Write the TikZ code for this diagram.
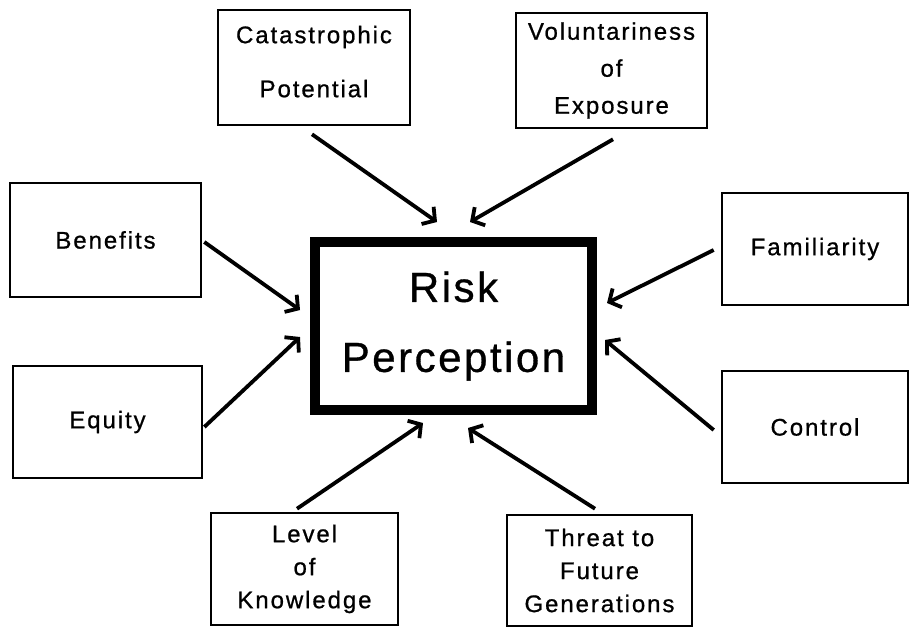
\documentclass[tikz,border=0pt]{standalone}
\usepackage{fontspec}
\setmainfont{Liberation Sans}
\newfontfamily\labfont{Liberation Sans}[LetterSpace=8,FakeBold=0.8]
\newfontfamily\bigfont{Liberation Sans}[LetterSpace=6,FakeBold=0.8]
\usetikzlibrary{arrows.meta,calc}
\tikzset{
  factor/.style={draw, line width=2.6pt, rectangle, align=center, inner sep=0pt,
    font=\labfont\fontsize{24}{34}\selectfont},
  central/.style={draw, line width=10pt, rectangle, align=center, inner sep=0pt,
    font=\bigfont\fontsize{42}{70}\selectfont},
  arr/.style={line width=3.8pt, -{Straight Barb[length=9pt,width=21pt]}}
}
\begin{document}
\begin{tikzpicture}[x=1pt,y=-1pt]
\useasboundingbox (0,0) rectangle (910,627);
\node[central, minimum width=277pt, minimum height=168pt] (risk) at (453.5,326) {Risk\\Perception};
\node[factor, minimum width=192pt, minimum height=115pt, text depth=12pt, font=\labfont\fontsize{24}{54}\selectfont] (cat) at (314,67.5) {Catastrophic\\Potential};
\node[factor, minimum width=191pt, minimum height=115pt, font=\labfont\fontsize{24}{37}\selectfont] (vol) at (611.5,70.5) {Voluntariness\\of\\Exposure};
\node[factor, minimum width=191pt, minimum height=114pt] (ben) at (105.5,240) {Benefits};
\node[factor, minimum width=189pt, minimum height=112pt] (equ) at (107.5,422) {Equity};
\node[factor, minimum width=186pt, minimum height=112pt] (fam) at (815,249) {Familiarity};
\node[factor, minimum width=186pt, minimum height=112pt] (con) at (815,427) {Control};
\node[factor, minimum width=187pt, minimum height=112pt, font=\labfont\fontsize{24}{33}\selectfont] (lev) at (304.5,569) {Level\\of\\Knowledge};
\node[factor, minimum width=185pt, minimum height=111pt, font=\labfont\fontsize{24}{33}\selectfont] (thr) at (599.5,570.5) {Threat to\\Future\\Generations};
\draw[arr] ($(cat.south)+(-2,8)$) -- ($(risk.north)+(-16.5,-15)$);
\draw[arr] ($(vol.south)+(1.5,10)$) -- ($(risk.north)+(16.5,-15)$);
\draw[arr] ($(ben.east)+(2,2)$) -- ($(risk.west)+(-10,-16)$);
\draw[arr] ($(equ.east)+(1,5)$) -- ($(risk.west)+(-10,11)$);
\draw[arr] ($(fam.west)+(-7,1)$) -- ($(risk.east)+(10,-23)$);
\draw[arr] ($(con.west)+(-7,3)$) -- ($(risk.east)+(8,14)$);
\draw[arr] ($(lev.north)+(-7.5,-3)$) -- ($(risk.south)+(-30.5,8)$);
\draw[arr] ($(thr.north)+(-4.5,-5)$) -- ($(risk.south)+(14.5,13)$);
\end{tikzpicture}
\end{document}
